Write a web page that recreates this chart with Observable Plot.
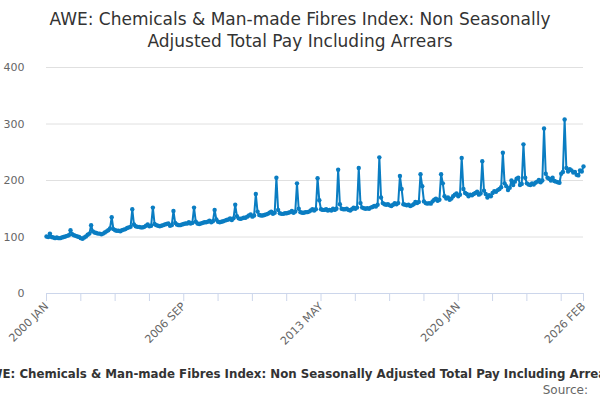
<!DOCTYPE html>
<html><head><meta charset="utf-8">
<script src="https://cdn.jsdelivr.net/npm/d3@7"></script>
<script src="https://cdn.jsdelivr.net/npm/@observablehq/plot@0.6"></script>
<style>
body{margin:0;width:600px;height:400px;overflow:hidden;font-family:"DejaVu Sans",sans-serif;background:#fff}
#title{text-align:center;font-size:17px;color:#333;line-height:22px;padding-top:8px;height:47px}
#cap{white-space:nowrap;font-weight:bold;font-size:11.8px;color:#333;text-align:center;width:600px;display:flex;justify-content:center;overflow:hidden;margin-top:22px}
#src{text-align:right;font-size:12px;color:#666;padding-right:12px;margin-top:2px}
svg{overflow:visible}
</style></head><body>
<div id="title">AWE: Chemicals &amp; Man-made Fibres Index: Non Seasonally<br>Adjusted Total Pay Including Arrears</div>
<div id="chart"></div>
<div id="cap"><span>AWE: Chemicals &amp; Man-made Fibres Index: Non Seasonally Adjusted Total Pay Including Arrears</span></div>
<div id="src">Source:</div>
<script>
const startYear = 2000;
const monthNames = ["JAN","FEB","MAR","APR","MAY","JUN","JUL","AUG","SEP","OCT","NOV","DEC"];
const values = [
101,100,106,100,99,98,99,98,98,99,100,101,
102,103,112,105,103,102,101,100,98,97,99,101,
104,106,121,110,108,107,106,106,105,106,108,110,
112,115,135,114,112,111,111,110,112,113,114,116,
117,118,149,122,119,118,118,117,117,118,120,122,
119,120,152,123,121,120,119,120,121,122,123,124,
120,121,146,125,122,121,121,122,123,124,124,126,
124,125,152,127,124,123,124,125,126,126,127,129,
126,128,148,131,127,126,127,128,129,130,131,133,
130,133,157,137,133,132,133,134,134,136,138,140,
136,138,176,145,139,138,138,139,140,141,143,145,
141,143,205,148,142,141,141,142,142,143,144,146,
143,145,195,150,144,143,143,144,144,145,147,149,
147,149,204,165,149,148,148,149,147,148,147,150,
148,150,219,158,150,149,149,150,148,147,149,152,
150,152,222,160,152,151,150,151,150,152,153,155,
154,157,241,170,160,158,157,158,156,155,157,160,
158,160,208,185,158,157,156,157,155,156,158,162,
160,162,211,190,163,160,159,160,159,163,166,168,
164,166,211,195,172,168,170,166,168,172,175,177,
172,175,240,185,178,176,172,175,174,176,178,180,
175,177,234,182,176,170,174,172,178,181,180,183,
185,188,249,195,190,183,187,200,192,198,203,205,
192,194,264,205,195,193,192,195,193,196,198,201,
197,200,292,212,205,203,200,205,199,198,197,196,
212,215,308,222,216,220,218,214,215,210,209,218,
216,225];
const labelIdx = [0,80,160,240,313];
const yTicks = [0,100,200,300,400];

const data = values.map((v,i)=>({i, v}));
const lab = i => `${startYear+Math.floor(i/12)} ${monthNames[i%12]}`;
const xTicks = d3.range(0,301,20).concat([313]);
const color = "#0a7dc2";
const plot = Plot.plot({
  width:600, height:290,
  marginTop:12, marginBottom:52, marginLeft:46, marginRight:17,
  style:{fontFamily:"DejaVu Sans, sans-serif", fontSize:"11px", color:"#666", overflow:"visible"},
  x:{domain:[0,313], label:null},
  y:{domain:[0,400], label:null},
  marks:[
    Plot.gridY(yTicks,{stroke:"#e0e0e0", strokeOpacity:1}),
    Plot.axisY(yTicks,{tickSize:0, tickPadding:22, fill:"#666", fontSize:11}),
    Plot.ruleY([0],{stroke:"#ccd6eb"}),
    Plot.axisX({ticks:xTicks, tickFormat:i=>labelIdx.includes(i)?lab(i):"", tickRotate:-45, tickSize:8, tickPadding:3, stroke:"#ccd6eb", fill:"#666", fontSize:11}),
    Plot.line(data,{x:"i", y:"v", stroke:color, strokeWidth:2}),
    Plot.dot(data,{x:"i", y:"v", fill:color, r:2.2})
  ]
});
document.getElementById("chart").appendChild(plot);
</script></body></html>
